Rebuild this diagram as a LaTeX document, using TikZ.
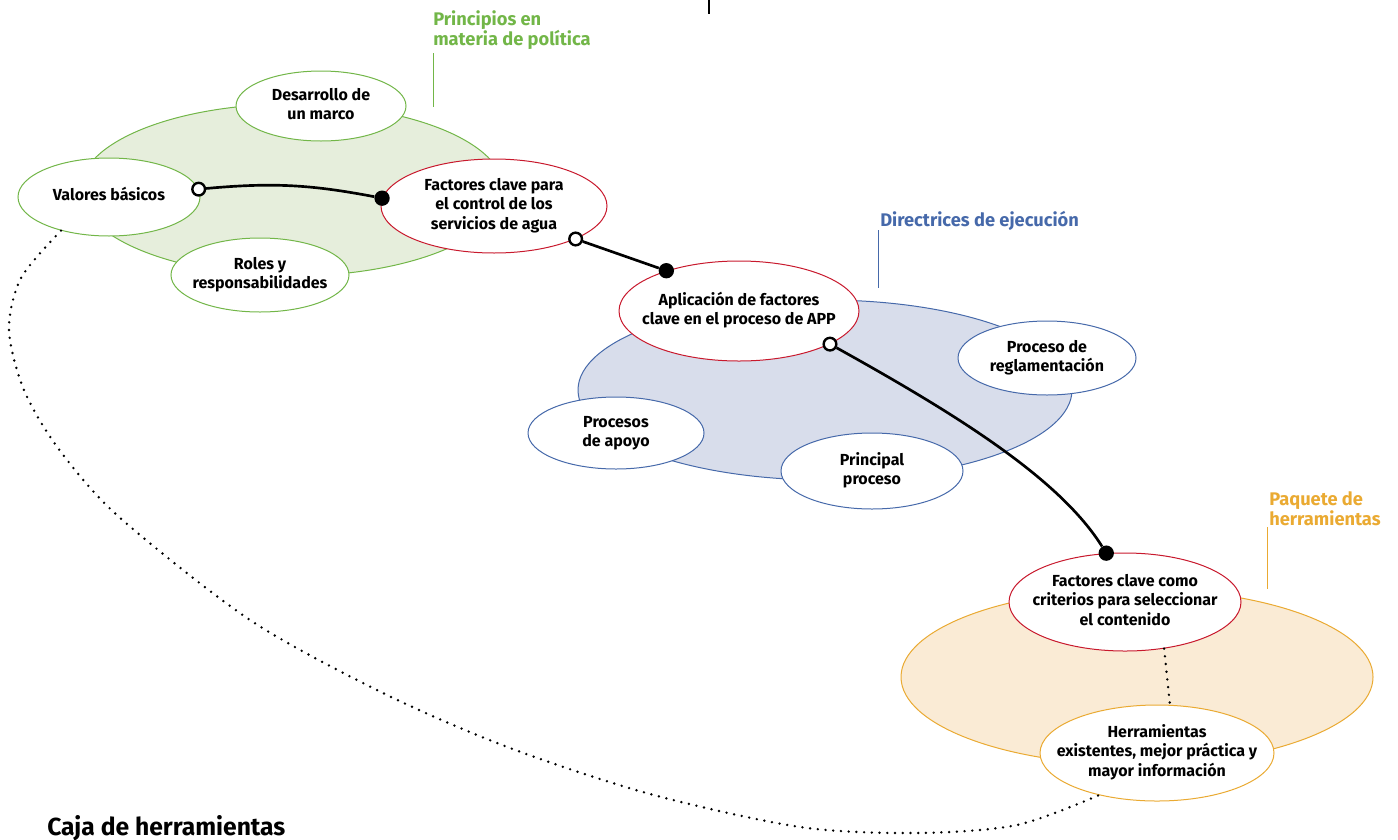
\documentclass[tikz,border=0pt]{standalone}
\usepackage{fontspec}
\setmainfont{Fira Sans}
\usepackage{tikz}
\usetikzlibrary{shapes.geometric}
\definecolor{PolGreen}{RGB}{114,182,72}
\definecolor{PolFill}{RGB}{230,238,220}
\definecolor{ExeBlue}{RGB}{70,105,170}
\definecolor{ExeFill}{RGB}{216,221,235}
\definecolor{KitOrange}{RGB}{234,170,50}
\definecolor{KitFill}{RGB}{250,235,213}
\definecolor{KeyRed}{RGB}{200,25,45}
\newcommand{\eltext}[1]{\makebox[0pt]{\begin{tabular}{@{}c@{}}#1\end{tabular}}}

\begin{document}
\begin{tikzpicture}[x=0.75pt,y=-0.75pt,
font=\fontsize{12}{14.5}\selectfont\bfseries,
zone/.style={ellipse,draw=#1,line width=0.75pt},
el/.style={ellipse,draw=#1,fill=white,line width=0.75pt,inner sep=0pt},
cap/.style={font=\fontsize{13.7}{15}\selectfont\bfseries,text=#1,align=left,inner sep=0pt},
lead/.style={draw=#1,line width=0.75pt},
link/.style={line width=2pt},
opendot/.style={circle,draw,fill=white,line width=1.8pt,inner sep=0pt,minimum size=9.5pt},
fulldot/.style={circle,fill,inner sep=0pt,minimum size=11.5pt},
dots/.style={line width=2pt,line cap=round,dash pattern=on 0pt off 5.8pt}
]
\useasboundingbox (0,0) rectangle (1398,839);

\node[zone=PolGreen,fill=PolFill,minimum width=318pt,minimum height=129pt] (policy) at (292,190) {};
\node[zone=ExeBlue,fill=ExeFill,minimum width=370.5pt,minimum height=135pt] (execution) at (825,390) {};
\node[zone=KitOrange,fill=KitFill,minimum width=354pt,minimum height=132pt] (toolkit) at (1137,677) {};

\node[el=PolGreen,minimum width=127.5pt,minimum height=52.5pt] (marco) at (321,106) {\eltext{Desarrollo de\\un marco}};
\node[el=PolGreen,minimum width=136.5pt,minimum height=58.5pt] (valores) at (109,197) {\eltext{Valores básicos}};
\node[el=PolGreen,minimum width=133.5pt,minimum height=55.5pt] (roles) at (260,275) {\eltext{Roles y\\responsabilidades}};
\node[el=KeyRed,minimum width=169.5pt,minimum height=70.5pt] (control) at (494,206) {\eltext{Factores clave para\\el control de los\\servicios de agua}};
\node[el=KeyRed,minimum width=180pt,minimum height=75pt] (app) at (739,311) {\eltext{Aplicación de factores\\clave en el proceso de APP}};
\node[el=ExeBlue,minimum width=133.5pt,minimum height=55.5pt] (regla) at (1047,358) {\eltext{Proceso de\\reglamentación}};
\node[el=ExeBlue,minimum width=132pt,minimum height=54pt] (apoyo) at (616,433) {\eltext{Procesos\\de apoyo}};
\node[el=ExeBlue,minimum width=136.5pt,minimum height=57pt] (principal) at (872,471) {\eltext{Principal\\proceso}};
\node[el=KeyRed,minimum width=174pt,minimum height=73.5pt] (criterios) at (1125,602) {\eltext{Factores clave como\\criterios para seleccionar\\el contenido}};
\node[el=KitOrange,minimum width=175.5pt,minimum height=72pt] (existentes) at (1157,753) {\eltext{Herramientas\\existentes, mejor práctica y\\mayor información}};

\node[cap=PolGreen,anchor=north west] (princ) at (433,10) {Principios en\\materia de política};
\node[cap=ExeBlue,anchor=base west] (direc) at (880,226) {Directrices de ejecución};
\node[cap=KitOrange,anchor=north west] (paquete) at (1269,491) {Paquete de\\herramientas};
\node[anchor=base west,inner sep=0pt,font=\fontsize{18.5}{20}\selectfont\bfseries] (caja) at (47,835) {Caja de herramientas};

\draw[lead=PolGreen] ([yshift=-3pt]princ.south west) -- ++(0,54);
\draw[lead=ExeBlue] ([xshift=-1.5pt]direc.south west) -- ++(0,58);
\draw[lead=KitOrange] ([shift={(-1.5pt,-1pt)}]paquete.south west) -- ++(0,62);
\coordinate (cut) at (709,0);
\draw[line width=1pt] (cut) -- ++(0,14);

\node[opendot] (v1) at (valores.5) {};
\node[fulldot] (c1) at (control.176) {};
\node[opendot] (c2) at (control.-22) {};
\node[fulldot] (a1) at (app.151) {};
\node[opendot] (a2) at (app.-20) {};
\node[fulldot] (k1) at (criterios.111) {};
\draw[link] (v1) to[bend left=8] (c1);
\draw[link] (c2) -- (a1);
\draw[link] (a2) .. controls +(126,70) and +(-47,-75) .. (k1);

\draw[dots] (criterios.-50) -- (existentes.75);
\draw[dots] plot[smooth] coordinates {(valores.215) (21,278) (9,330) (24,390) (58,448) (118,516) (250,620) (385,694) (510,748) (650,794) (800,827) (917,833) (1017,825) (existentes.216)};
\end{tikzpicture}
\end{document}
